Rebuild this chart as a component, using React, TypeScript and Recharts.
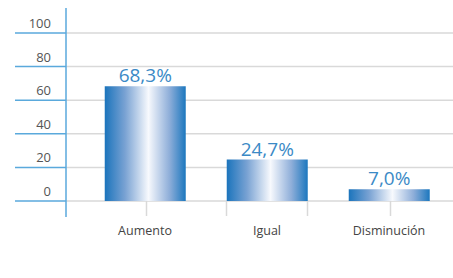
import { BarChart, Bar, XAxis, YAxis, CartesianGrid, LabelList } from 'recharts';

const categories = ['Aumento', 'Igual', 'Disminución'];
const values = [68.3, 24.7, 7.0];
const yTicks = [0, 20, 40, 60, 80, 100];

const data = categories.map((name, i) => ({ name, value: values[i] }));

const FONT = '"Open Sans", "Noto Sans", sans-serif';
const AXIS_BLUE = '#5aa9dc';
const GRID_GRAY = '#d9d9d9';

function YTick(props: any) {
  const { x, y, payload } = props;
  return (
    <g>
      <line x1={x - 51} x2={x} y1={y} y2={y} stroke={AXIS_BLUE} strokeWidth={1.5} />
      {payload.value === 100 && <line x1={x} x2={x} y1={y - 25} y2={y} stroke={AXIS_BLUE} strokeWidth={1.5} />}
      {payload.value === 0 && <line x1={x} x2={x} y1={y} y2={y + 16} stroke={AXIS_BLUE} strokeWidth={1.5} />}
      <text x={x - 15} y={y - 5} textAnchor="end" fontSize={13} fill="#555" fontFamily={FONT}>
        {payload.value}
      </text>
    </g>
  );
}

function XTick(props: any) {
  const { x, y, payload, index } = props;
  const marks = index === 1 ? [x - 40.5, x + 40.5] : [x + 1.5];
  return (
    <g>
      {marks.map((mx, i) => (
        <line key={i} x1={mx} x2={mx} y1={y} y2={y + 15} stroke={GRID_GRAY} strokeWidth={1.5} />
      ))}
      <text x={x} y={y + 34} textAnchor="middle" fontSize={12.5} fill="#444" fontFamily={FONT}>
        {payload.value}
      </text>
    </g>
  );
}

export default function App() {
  return (
    <div style={{ position: 'absolute', left: 0, top: 0, background: '#fff' }}>
      <BarChart width={453} height={278} data={data} margin={{ top: 33, right: 0, bottom: 0, left: 0 }} barCategoryGap="17%">
        <defs>
          <linearGradient id="barGrad" x1="0" y1="0" x2="1" y2="0">
            <stop offset="0%" stopColor="#1b74bc" />
            <stop offset="25%" stopColor="#79a2d3" />
            <stop offset="54%" stopColor="#f7f9fd" />
            <stop offset="80%" stopColor="#8eaed9" />
            <stop offset="100%" stopColor="#1c77be" />
          </linearGradient>
        </defs>
        <CartesianGrid vertical={false} stroke={GRID_GRAY} strokeWidth={1.5} />
        <XAxis
          dataKey="name"
          height={77}
          axisLine={false}
          tickLine={false}
          tickSize={0}
          tickMargin={0}
          padding={{ left: 18, right: 3 }}
          tick={<XTick />}
          interval={0}
        />
        <YAxis
          width={66}
          domain={[0, 100]}
          ticks={yTicks}
          axisLine={{ stroke: AXIS_BLUE, strokeWidth: 1.5 }}
          tickLine={false}
          tickSize={0}
          tickMargin={0}
          tick={<YTick />}
        />
        <Bar dataKey="value" fill="url(#barGrad)" isAnimationActive={false}>
          <LabelList
            dataKey="value"
            position="top"
            offset={4}
            formatter={(v: any) => Number(v).toFixed(1).replace('.', ',') + '%'}
            style={{ fontSize: 19, fill: '#3b8ac6', fontFamily: FONT }}
          />
        </Bar>
      </BarChart>
    </div>
  );
}
